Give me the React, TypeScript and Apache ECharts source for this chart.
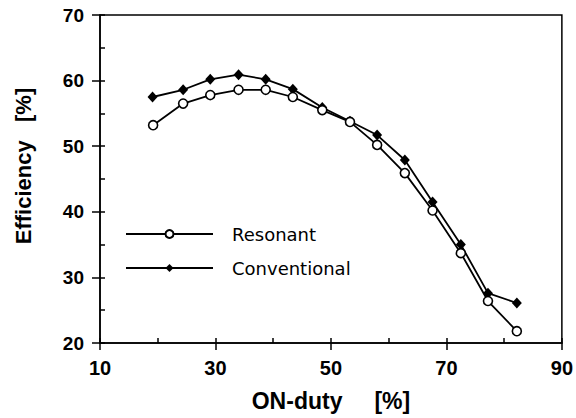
import React, { useEffect, useRef } from "react";
import * as echarts from "echarts";

const seriesNames = ["Resonant", "Conventional"];
const xRes = [19.2, 24.4, 29.1, 34.0, 38.7, 43.4, 48.5, 53.3, 58.0, 62.8, 67.6, 72.5, 77.2, 82.2];
const yRes = [53.2, 56.5, 57.8, 58.6, 58.6, 57.5, 55.5, 53.7, 50.2, 45.9, 40.2, 33.7, 26.4, 21.8];
const xConv = [19.1, 24.4, 29.1, 34.0, 38.7, 43.4, 48.5, 53.3, 58.0, 62.8, 67.6, 72.5, 77.2, 82.2];
const yConv = [57.5, 58.6, 60.2, 60.9, 60.2, 58.7, 55.9, 53.8, 51.7, 47.9, 41.5, 35.0, 27.6, 26.1];
const xTitle = "ON-duty     [%]";
const yTitle = "Efficiency   [%]";

const AX = "Liberation Sans, Arial, sans-serif";

export default function App() {
  const ref = useRef<HTMLDivElement>(null);
  useEffect(() => {
    document.body.style.margin = "0";
    const chart = echarts.init(ref.current!, undefined, { renderer: "svg" });
    const pairs = (xs: number[], ys: number[]) => xs.map((x, i) => [x, ys[i]]);
    const lineStyle = { color: "#000", width: 1.8 };
    chart.setOption({
      animation: false,
      backgroundColor: "#fff",
      grid: {
        left: 100,
        right: 12,
        top: 15,
        bottom: 75,
        show: true,
        borderColor: "#000",
        borderWidth: 1.5,
        backgroundColor: "transparent",
      },
      legend: {
        orient: "vertical",
        left: 120,
        top: 220,
        itemWidth: 87,
        itemHeight: 10,
        itemGap: 16,
        data: seriesNames,
        textStyle: {
          fontFamily: "DejaVu Sans, sans-serif",
          fontSize: 18,
          color: "#000",
          lineHeight: 18,
          padding: [0, 0, 0, 14],
        },
      },
      xAxis: [
        {
          type: "value",
          min: 10,
          max: 90,
          interval: 20,
          position: "bottom",
          name: xTitle,
          nameLocation: "middle",
          nameGap: 46,
          nameTextStyle: { fontFamily: AX, fontSize: 23, fontWeight: "bold", color: "#000" },
          axisLine: { show: true, lineStyle: { color: "#000", width: 1.5 } },
          axisTick: { show: true, inside: false, length: 7, lineStyle: { color: "#000", width: 1.5 } },
          axisLabel: { fontFamily: AX, fontSize: 20, fontWeight: "bold", color: "#000", margin: 15 },
          splitLine: { show: false },
        },
        {
          type: "value",
          min: 10,
          max: 90,
          interval: 10,
          position: "bottom",
          axisLine: { show: false },
          axisTick: { show: true, inside: true, length: 5, lineStyle: { color: "#000", width: 1.5 } },
          axisLabel: { show: false },
          splitLine: { show: false },
        },
      ],
      yAxis: [
        {
          type: "value",
          min: 20,
          max: 70,
          interval: 10,
          position: "left",
          name: yTitle,
          nameLocation: "middle",
          nameGap: 66,
          nameTextStyle: {
            fontFamily: AX,
            fontSize: 22,
            fontWeight: "bold",
            color: "#000",
            padding: [0, 0, 0, 26],
          },
          axisLine: { show: true, lineStyle: { color: "#000", width: 1.5 } },
          axisTick: { show: true, inside: false, length: 8, lineStyle: { color: "#000", width: 1.5 } },
          axisLabel: { fontFamily: AX, fontSize: 19, fontWeight: "bold", color: "#000", margin: 16 },
          splitLine: { show: false },
        },
        {
          type: "value",
          min: 20,
          max: 70,
          interval: 5,
          position: "left",
          axisLine: { show: false },
          axisTick: { show: true, inside: true, length: 5, lineStyle: { color: "#000", width: 1.5 } },
          axisLabel: { show: false },
          splitLine: { show: false },
        },
      ],
      series: [
        {
          name: seriesNames[1],
          type: "line",
          data: pairs(xConv, yConv),
          symbol: "diamond",
          symbolSize: [10, 11],
          itemStyle: { color: "#000" },
          lineStyle,
          z: 2,
        },
        {
          name: seriesNames[0],
          type: "line",
          data: pairs(xRes, yRes),
          symbol: "circle",
          symbolSize: 9,
          itemStyle: { color: "#fff", borderColor: "#000", borderWidth: 1.6 },
          lineStyle,
          z: 3,
        },
      ],
    });
    return () => chart.dispose();
  }, []);
  return <div ref={ref} style={{ width: 576, height: 418 }} />;
}
